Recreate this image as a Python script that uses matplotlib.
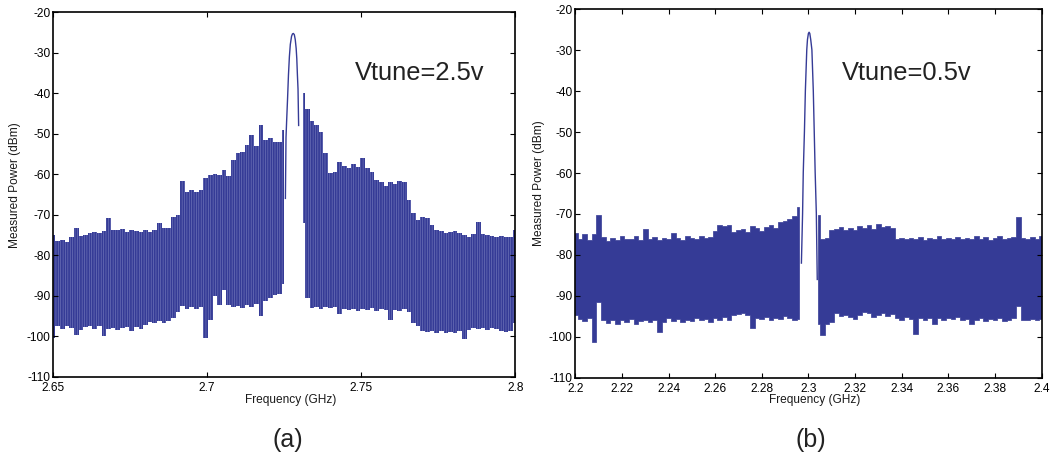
import numpy as np
import matplotlib
matplotlib.use("Agg")
import matplotlib.pyplot as plt

plt.rcParams['font.family'] = ['Liberation Sans', 'DejaVu Sans']
plt.rcParams['hatch.linewidth'] = 0.45

# ---------------- Spectrum (a): Vtune = 2.5 V ----------------
# envelope of the measured trace, one bin every 1.5 MHz from 2.65 to 2.80 GHz
FREQ_A = np.linspace(2.65, 2.80, 101)
UPPER_A = [
    -75.0, -76.5, -76.3, -76.8, -75.5, -73.3, -75.3, -75.0, -74.6, -74.2,
    -74.5, -74.0, -70.8, -73.7, -73.9, -73.6, -74.3, -73.8, -74.1, -74.4,
    -73.9, -74.2, -73.8, -72.0, -73.3, -73.4, -70.5, -70.0, -61.8, -64.3,
    -64.0, -64.5, -64.0, -61.0, -60.2, -60.0, -60.3, -59.0, -60.5, -56.5,
    -54.8, -54.5, -52.8, -50.3, -53.0, -47.9, -51.5, -51.0, -52.0, -52.2,
    -49.0, np.nan, np.nan, np.nan, -40.0, -43.9, -47.0, -47.8, -49.5, -54.8,
    -59.7, -59.5, -56.9, -58.0, -58.5, -57.5, -58.2, -56.1, -58.5, -59.5,
    -61.4, -62.0, -63.0, -62.0, -62.5, -61.8, -62.0, -66.4, -69.6, -71.3,
    -70.6, -70.9, -72.5, -73.8, -74.0, -74.6, -74.2, -74.0, -74.5, -75.0,
    -75.5, -74.8, -71.7, -74.8, -75.0, -75.3, -75.5, -75.2, -75.5, -75.5,
    -73.8,
]
LOWER_A = [
    -100.5, -97.5, -98.2, -97.6, -98.0, -99.7, -98.4, -97.8, -97.4, -98.3,
    -97.6, -100.0, -98.2, -97.9, -98.5, -98.0, -97.7, -98.6, -97.8, -98.2,
    -97.3, -96.6, -96.8, -96.2, -96.7, -96.3, -95.5, -94.0, -92.6, -93.2,
    -92.8, -93.4, -92.9, -100.4, -96.0, -90.2, -92.4, -88.5, -92.3, -92.9,
    -92.5, -93.0, -92.3, -92.8, -92.0, -95.0, -91.2, -90.5, -89.8, -89.5,
    -87.0, np.nan, np.nan, np.nan, -72.0, -90.5, -93.0, -92.8, -93.2, -92.9,
    -93.1, -92.8, -94.5, -93.3, -93.6, -93.2, -93.8, -93.4, -93.5, -93.0,
    -93.7, -93.4, -93.6, -96.0, -93.5, -93.7, -93.4, -94.0, -96.7, -97.5,
    -98.6, -99.0, -98.7, -99.2, -98.8, -99.1, -98.9, -99.3, -98.6, -100.8,
    -98.4, -98.0, -98.3, -97.9, -98.5, -98.0, -98.2, -98.6, -99.0, -98.8,
    -96.8,
]
# carrier peak
PEAK_A_F = [2.7254, 2.7256, 2.7258, 2.7261, 2.7264, 2.7267, 2.7270, 2.7274,
            2.7277, 2.7280, 2.7283, 2.7286, 2.7289, 2.7291, 2.7293, 2.7295, 2.7297]
PEAK_A_V = [-66.0, -51.0, -47.0, -41.5, -35.5, -31.0, -28.0, -26.0,
            -25.4, -25.3, -25.6, -26.8, -29.0, -31.5, -35.5, -39.0, -48.0]

# ---------------- Spectrum (b): Vtune = 0.5 V ----------------
# envelope of the measured trace, one bin every 2 MHz from 2.2 to 2.4 GHz
FREQ_B = np.linspace(2.20, 2.40, 101)
UPPER_B = [
    -74.7, -76.2, -75.0, -76.4, -74.8, -70.3, -75.6, -76.5, -75.8, -76.3,
    -75.5, -76.2, -76.0, -75.4, -76.3, -73.6, -76.1, -75.7, -76.4, -75.9,
    -76.2, -74.6, -75.8, -76.3, -75.5, -75.9, -76.1, -75.3, -75.8, -75.6,
    -74.2, -72.8, -73.0, -72.7, -74.5, -74.0, -73.6, -74.4, -73.0, -73.4,
    -74.2, -73.3, -72.6, -73.5, -72.0, -71.8, -71.2, -70.6, -68.2, np.nan,
    np.nan, np.nan, -70.3, -76.2, -75.8, -74.0, -73.6, -73.2, -74.0, -73.5,
    -73.8, -73.0, -73.4, -72.8, -73.6, -72.5, -73.2, -73.0, -73.4, -76.0,
    -75.8, -76.2, -75.9, -76.1, -75.7, -76.3, -75.8, -76.0, -75.4, -76.2,
    -75.8, -76.1, -75.6, -76.0, -75.9, -76.2, -75.5, -76.0, -75.7, -76.3,
    -75.8, -75.4, -76.1, -75.9, -75.6, -70.7, -75.8, -76.2, -75.7, -76.0,
    -75.5,
]
LOWER_B = [
    -94.8, -95.6, -96.1, -95.3, -101.2, -91.5, -95.8, -96.6, -95.9, -96.8,
    -96.0, -96.5, -95.7, -96.9, -96.2, -95.8, -96.4, -96.0, -98.8, -96.3,
    -95.5, -96.1, -95.6, -96.4, -95.8, -96.2, -95.4, -96.0, -95.7, -96.3,
    -95.5, -95.8, -95.2, -95.9, -94.8, -94.4, -94.1, -94.7, -97.8, -95.4,
    -95.6, -95.1, -95.9, -95.3, -95.7, -95.0, -95.4, -95.8, -95.6, np.nan,
    np.nan, np.nan, -97.0, -99.6, -96.8, -96.5, -94.3, -95.0, -94.6, -95.2,
    -95.6, -94.8, -94.0, -94.3, -95.1, -94.6, -94.2, -95.0, -94.5, -95.3,
    -95.8, -95.2, -95.6, -99.3, -95.4, -95.8, -95.3, -96.8, -95.5, -95.9,
    -95.4, -95.7, -95.2, -96.0, -95.6, -97.0, -95.8, -95.4, -96.1, -95.6,
    -95.9, -95.5, -96.2, -95.8, -95.4, -92.5, -95.8, -96.0, -95.6, -95.9,
    -95.7,
]
PEAK_B_F = [2.2970, 2.2975, 2.2978, 2.2983, 2.2987, 2.2993, 2.2996, 2.3000,
            2.3003, 2.3006, 2.3010, 2.3015, 2.3021, 2.3025, 2.3029, 2.3034, 2.3038]
PEAK_B_V = [-82.0, -70.0, -59.8, -49.8, -39.9, -29.9, -27.4, -25.9,
            -25.6, -25.9, -27.4, -29.9, -39.9, -49.8, -59.8, -69.8, -86.0]

Y_TICKS = [-110, -100, -90, -80, -70, -60, -50, -40, -30, -20]
Y_LABELS = ['-110', '-100', '-90', '-80', '-70', '-60', '-50', '-40', '-30', '-20']
XA_TICKS = [2.65, 2.70, 2.75, 2.80]
XA_LABELS = ['2.65', '2.7', '2.75', '2.8']
XB_TICKS = [2.20, 2.22, 2.24, 2.26, 2.28, 2.30, 2.32, 2.34, 2.36, 2.38, 2.40]
XB_LABELS = ['2.2', '2.22', '2.24', '2.26', '2.28', '2.3', '2.32', '2.34',
             '2.36', '2.38', '2.4']

TRACE = '#353b96'
STRIPE = '#7378bb'
TXT = '#1a1a1a'
FS = 8.6

fig = plt.figure(figsize=(10.52, 4.54), dpi=100)
ax_a = fig.add_axes([0.05048, 0.17026, 0.43926, 0.80330])
ax_b = fig.add_axes([0.54686, 0.16806, 0.44316, 0.81145])


def style_axes(ax, xlim, xticks, xlabels):
    ax.set_xlim(*xlim)
    ax.set_ylim(-110, -20)
    ax.set_xticks(xticks)
    ax.set_xticklabels(xlabels)
    ax.set_yticks(Y_TICKS)
    ax.set_yticklabels(Y_LABELS)
    ax.tick_params(direction='in', top=True, right=True, length=3.5,
                   width=0.8, labelsize=FS, colors='black')
    ax.tick_params(axis='x', pad=4.0)
    ax.tick_params(axis='y', pad=2.0)
    for s in ax.spines.values():
        s.set_linewidth(1.2)
        s.set_color('black')


# panel (a): comb-like spurious spectrum, drawn with fine vertical stripes
plt.rcParams['hatch.color'] = STRIPE
ax_a.fill_between(FREQ_A, LOWER_A, UPPER_A, step='mid', facecolor=TRACE,
                  edgecolor=STRIPE, linewidth=0, hatch='|||||||')
ax_a.plot(PEAK_A_F, PEAK_A_V, color=TRACE, lw=1.0)
style_axes(ax_a, (2.65, 2.80), XA_TICKS, XA_LABELS)
ax_a.text(0.6533, 0.8135, 'Vtune=2.5v', transform=ax_a.transAxes,
          fontsize=18.4, color='#222222', ha='left', va='baseline')

# panel (b): flat noise floor
ax_b.fill_between(FREQ_B, LOWER_B, UPPER_B, step='mid', facecolor=TRACE,
                  edgecolor=TRACE, linewidth=0.5)
ax_b.plot(PEAK_B_F, PEAK_B_V, color=TRACE, lw=1.0)
style_axes(ax_b, (2.20, 2.40), XB_TICKS, XB_LABELS)
ax_b.text(0.5714, 0.8081, 'Vtune=0.5v', transform=ax_b.transAxes,
          fontsize=18.4, color='#222222', ha='left', va='baseline')

# axis titles and panel captions
W, H = 1052.0, 454.0
fig.text(290.5 / W, 1 - 403.0 / H, 'Frequency (GHz)', fontsize=FS,
         ha='center', va='baseline', color=TXT)
fig.text(815.0 / W, 1 - 403.5 / H, 'Frequency (GHz)', fontsize=FS,
         ha='center', va='baseline', color=TXT)
fig.text(15.5 / W, 1 - 185.0 / H, 'Measured Power (dBm)', fontsize=FS,
         rotation=90, ha='center', va='center', color=TXT)
fig.text(538.7 / W, 1 - 183.0 / H, 'Measured Power (dBm)', fontsize=FS,
         rotation=90, ha='center', va='center', color=TXT)
fig.text(287.5 / W, 1 - 446.5 / H, '(a)', fontsize=18, ha='center',
         va='baseline', color='#222222')
fig.text(811.0 / W, 1 - 446.5 / H, '(b)', fontsize=18, ha='center',
         va='baseline', color='#222222')

fig.savefig('out.png', dpi=100)
